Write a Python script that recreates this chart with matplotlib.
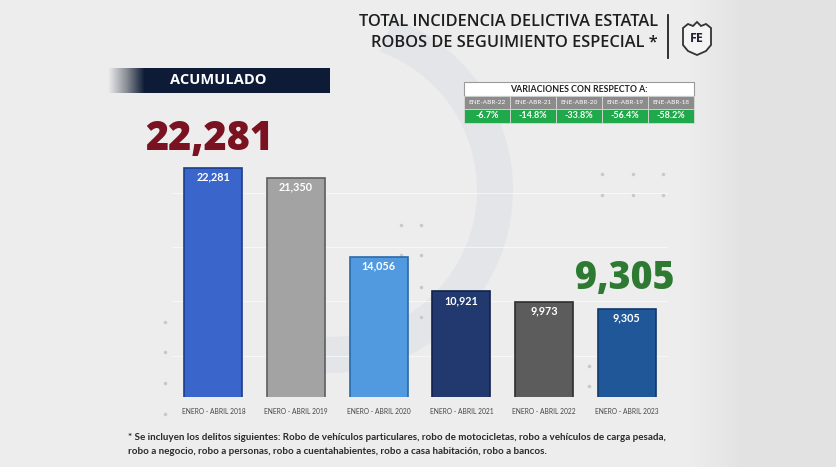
import numpy as np
import matplotlib
matplotlib.use("Agg")
import matplotlib.pyplot as plt
from matplotlib.patches import Rectangle, Polygon, Arc
from matplotlib.colors import LinearSegmentedColormap

# data
periods = ["ENERO - ABRIL 2018", "ENERO - ABRIL 2019", "ENERO - ABRIL 2020",
           "ENERO - ABRIL 2021", "ENERO - ABRIL 2022", "ENERO - ABRIL 2023"]
totals = [22281, 21350, 14056, 10921, 9973, 9305]
bar_colors = ["#3a66cc", "#a3a3a3", "#519ae0", "#22396f", "#5c5c5c", "#205798"]
edge_colors = ["#1d3c8c", "#5e5e5e", "#2a6aa8", "#10214a", "#2e2e2e", "#103a6a"]
var_labels = ["ENE-ABR-22", "ENE-ABR-21", "ENE-ABR-20", "ENE-ABR-19", "ENE-ABR-18"]
var_values = ["-6.7%", "-14.8%", "-33.8%", "-56.4%", "-58.2%"]
footnote = ["* Se incluyen los delitos siguientes: Robo de vehículos particulares, robo de motocicletas, robo a vehículos de carga pesada,",
            "robo a negocio, robo a personas, robo a cuentahabientes, robo a casa habitación, robo a bancos."]

W, H = 837, 467
fig = plt.figure(figsize=(W / 100, H / 100), dpi=100)
fig.patch.set_facecolor("#ededed")

# background / decoration layer in pixel coords
bg = fig.add_axes([0, 0, 1, 1], zorder=0)
side = LinearSegmentedColormap.from_list("side", ["#ededed", "#e2e2e2"])
bg.imshow(np.linspace(0, 1, 64).reshape(1, -1), cmap=side, aspect="auto",
          extent=(690, 745, H, 0))
bg.add_patch(Rectangle((745, 0), W - 745, H, color="#e2e2e2", lw=0))
bg.add_patch(Arc((330, 190), 330, 330, theta1=-70, theta2=95, color="#d9dde3", lw=26, alpha=0.45))
bg.set_xlim(0, W); bg.set_ylim(H, 0); bg.axis("off")
for x, y in [(602, 174), (633, 174), (663, 174), (602, 195), (633, 195), (663, 195),
             (401, 225), (421, 225), (401, 255), (421, 255), (421, 287), (421, 317),
             (165, 322), (165, 352), (165, 383), (165, 414), (589, 366), (589, 386)]:
    bg.plot(x, y, "o", ms=2.5, color="#c8c8c8", mec="none")

# chart axes (zero sits a bit below the visible baseline, as in the original)
ax = fig.add_axes([172 / W, (H - 397) / H, 496 / W, 247 / H], zorder=1)
ax.patch.set_alpha(0)
xs = np.arange(len(totals))
ax.bar(xs, totals, width=0.70, color=bar_colors, edgecolor=edge_colors, linewidth=1.2, zorder=3)
for x, v in zip(xs, totals):
    ax.annotate(f"{v:,}", (x, v), xytext=(0, -6.5), textcoords="offset points",
                ha="center", va="center", color="white", fontsize=7.8,
                fontweight="bold", family="Lato", zorder=4)
ax.set_xlim(-0.5, len(totals) - 0.5)
ax.set_ylim(1200, 23920)
ax.set_yticks(range(5000, 23000, 5000))
ax.yaxis.grid(True, color="white", lw=0.8, alpha=0.6)
ax.set_axisbelow(True)
ax.set_xticks(xs)
ax.set_xticklabels(periods, fontsize=4.8, color="#444444", family="Lato")
ax.tick_params(axis="x", length=0, pad=8)
ax.tick_params(axis="y", length=0, labelleft=False)
for s in ax.spines.values():
    s.set_visible(False)

# overlay layer for titles, banner, table
ov = fig.add_axes([0, 0, 1, 1], zorder=2)

ov.text(658, 22, "TOTAL INCIDENCIA DELICTIVA ESTATAL", ha="right", va="center",
        fontsize=11.8, fontweight="semibold", color="#1e1e1e", family="Open Sans")
ov.text(658, 43, "ROBOS DE SEGUIMIENTO ESPECIAL *", ha="right", va="center",
        fontsize=11.8, fontweight="semibold", color="#1e1e1e", family="Open Sans")
ov.plot([668, 668], [15, 58], color="#222222", lw=1.3)
shield = [(683, 28), (688, 24), (693, 26), (697, 22), (701, 26), (706, 24), (711, 28),
          (711, 45), (706, 51), (697, 55), (688, 51), (683, 45)]
ov.add_patch(Polygon(shield, closed=True, fc="#f4f4f4", ec="#333333", lw=1.3))
ov.text(697, 39, "FE", ha="center", va="center", fontsize=9, fontweight="bold",
        color="#222233", family="Open Sans")

# ACUMULADO banner with fade-in on the left
fade = LinearSegmentedColormap.from_list("fade", ["#ededed", "#8a8e96", "#0d1b36"])
ov.imshow(np.linspace(0, 1, 64).reshape(1, -1), cmap=fade, aspect="auto",
          extent=(108, 145, 93, 68), zorder=1)
ov.add_patch(Rectangle((145, 68), 185, 25, fc="#0d1b36", lw=0, zorder=1))
ov.set_xlim(0, W); ov.set_ylim(H, 0); ov.axis("off")
ov.text(218, 80.5, "ACUMULADO", ha="center", va="center", fontsize=10.5,
        fontweight="bold", color="white", family="Open Sans", zorder=2)

# headline numbers
ov.text(209, 139, f"{totals[0]:,}", ha="center", va="center", fontsize=28.5,
        fontweight="heavy", color="#7a1222", family="Open Sans")
ov.text(625, 279, f"{totals[-1]:,}", ha="center", va="center", fontsize=27,
        fontweight="heavy", color="#2e7a33", family="Open Sans")

# variations table
tx0, tw, cw = 464, 230, 46
ov.add_patch(Rectangle((tx0, 82), tw, 14, fc="white", ec="#9a9a9a", lw=0.8))
ov.text(tx0 + tw / 2, 89.5, "VARIACIONES CON RESPECTO A:", ha="center", va="center",
        fontsize=6.3, fontweight="bold", color="#222222", family="Lato")
for i, (lab, val) in enumerate(zip(var_labels, var_values)):
    x0 = tx0 + i * cw
    ov.add_patch(Rectangle((x0, 96), cw, 13, fc="#8c8c8c", ec="#d8d8d8", lw=0.6))
    ov.add_patch(Rectangle((x0, 109), cw, 14, fc="#1fa94a", ec="#d8d8d8", lw=0.6))
    ov.text(x0 + cw / 2, 102.5, lab, ha="center", va="center", fontsize=4.6,
            color="white", family="Lato")
    ov.text(x0 + cw / 2, 116, val, ha="center", va="center", fontsize=6.5,
            fontweight="bold", color="white", family="Lato")

# footnote
ov.text(128, 438, footnote[0], ha="left", va="center", fontsize=7.1,
        fontweight="bold", color="#2a2a2a", family="Lato")
ov.text(128, 452, footnote[1], ha="left", va="center", fontsize=7.1,
        fontweight="bold", color="#2a2a2a", family="Lato")

fig.savefig("out.png", dpi=100, facecolor=fig.get_facecolor())
